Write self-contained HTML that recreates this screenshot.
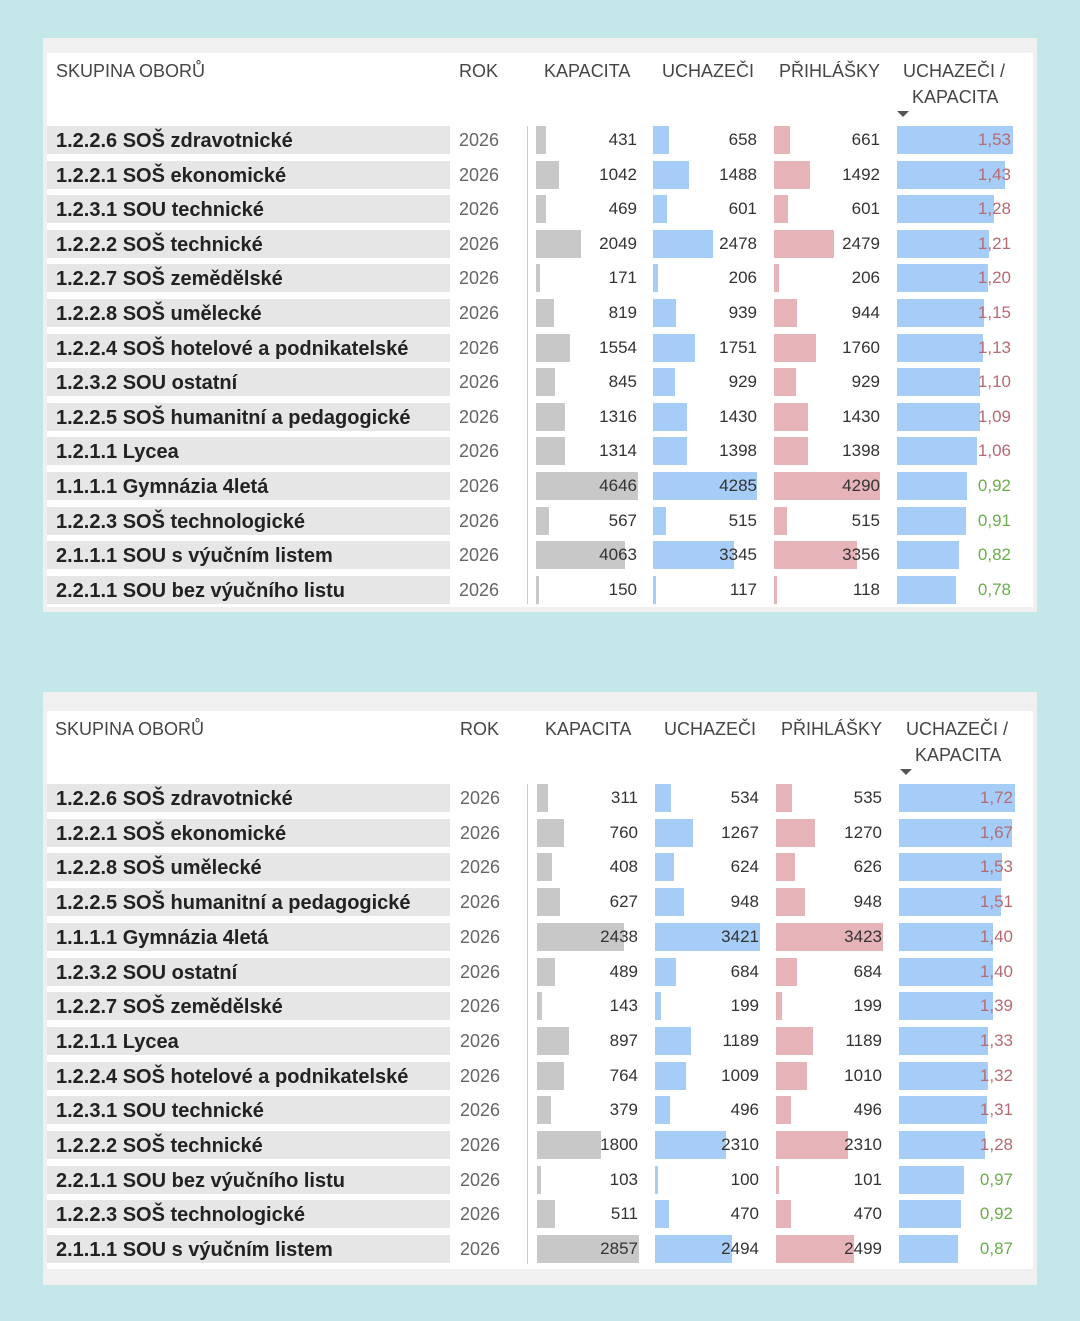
<!DOCTYPE html>
<html><head><meta charset="utf-8"><style>
body{margin:0;width:1080px;height:1321px;background:#c4e8ea;position:relative;overflow:hidden;font-family:"Liberation Sans",sans-serif}
.f{position:absolute;left:43px;width:994px;background:#f0f0f0}
.w{position:absolute;left:4px;width:986px;background:#fff}
.p{position:absolute;left:0;top:0;width:1080px}
.h{position:absolute;font-size:18px;color:#454545;line-height:20px;white-space:nowrap}
.tri{position:absolute;width:0;height:0;border-left:6px solid transparent;border-right:6px solid transparent;border-top:6px solid #555}
.dv{position:absolute;left:527px;width:1px;background:#ccc}
.r{position:absolute;left:0;height:28px;width:1080px}
.l{position:absolute;left:47px;width:394px;height:28px;background:#e6e6e6;padding-left:9px;font-weight:bold;font-size:20px;line-height:30px;color:#222;white-space:nowrap}
.y{position:absolute;left:459px;font-size:18px;line-height:28px;color:#666}
.c{position:absolute;top:0;height:28px;line-height:28px;text-align:right;font-size:17px;color:#333}
.c i{position:absolute;left:0;top:0;height:28px}
.c span{position:relative}
.k{left:536px;width:101px}.k i{background:#c8c8c8}
.u{left:653px;width:104px}.u i{background:#a6cdf7}
.q{left:774px;width:106px}.q i{background:#e6b4b8}
.z{left:897px;width:114px}.z i{background:#a6cdf7}
.rd{color:#b86a72}.gr{color:#6aad4c}
.p2 .y{left:460px}.p2 .k{left:537px}.p2 .u{left:655px}.p2 .q{left:776px}.p2 .z{left:899px}
</style></head><body>
<div class="f" style="top:38px;height:574px"><div class="w" style="top:15px;height:554px"></div></div>
<div class="f" style="top:692px;height:593px"><div class="w" style="top:19px;height:558px"></div></div>

<div class="p">
<div class="h" style="left:56px;top:61px">SKUPINA OBORŮ</div>
<div class="h" style="left:459px;top:61px">ROK</div>
<div class="h" style="left:544px;top:61px">KAPACITA</div>
<div class="h" style="left:662px;top:61px">UCHAZEČI</div>
<div class="h" style="left:779px;top:61px">PŘIHLÁŠKY</div>
<div class="h" style="left:903px;top:61px">UCHAZEČI /</div>
<div class="h" style="left:912px;top:87px">KAPACITA</div>
<div class="tri" style="left:897px;top:111px"></div>
<div class="dv" style="top:126px;height:478px"></div>
<div class="r" style="top:126px"><div class="l">1.2.2.6 SOŠ zdravotnické</div><div class="y">2026</div><div class="c k"><i style="width:10px"></i><span>431</span></div><div class="c u"><i style="width:16px"></i><span>658</span></div><div class="c q"><i style="width:16px"></i><span>661</span></div><div class="c z rd"><i style="width:116px"></i><span>1,53</span></div></div>
<div class="r" style="top:160.6px"><div class="l">1.2.2.1 SOŠ ekonomické</div><div class="y">2026</div><div class="c k"><i style="width:23px"></i><span>1042</span></div><div class="c u"><i style="width:36px"></i><span>1488</span></div><div class="c q"><i style="width:36px"></i><span>1492</span></div><div class="c z rd"><i style="width:108px"></i><span>1,43</span></div></div>
<div class="r" style="top:195.2px"><div class="l">1.2.3.1 SOU technické</div><div class="y">2026</div><div class="c k"><i style="width:10px"></i><span>469</span></div><div class="c u"><i style="width:14px"></i><span>601</span></div><div class="c q"><i style="width:14px"></i><span>601</span></div><div class="c z rd"><i style="width:97px"></i><span>1,28</span></div></div>
<div class="r" style="top:229.8px"><div class="l">1.2.2.2 SOŠ technické</div><div class="y">2026</div><div class="c k"><i style="width:45px"></i><span>2049</span></div><div class="c u"><i style="width:60px"></i><span>2478</span></div><div class="c q"><i style="width:60px"></i><span>2479</span></div><div class="c z rd"><i style="width:92px"></i><span>1,21</span></div></div>
<div class="r" style="top:264.4px"><div class="l">1.2.2.7 SOŠ zemědělské</div><div class="y">2026</div><div class="c k"><i style="width:4px"></i><span>171</span></div><div class="c u"><i style="width:5px"></i><span>206</span></div><div class="c q"><i style="width:5px"></i><span>206</span></div><div class="c z rd"><i style="width:91px"></i><span>1,20</span></div></div>
<div class="r" style="top:299px"><div class="l">1.2.2.8 SOŠ umělecké</div><div class="y">2026</div><div class="c k"><i style="width:18px"></i><span>819</span></div><div class="c u"><i style="width:23px"></i><span>939</span></div><div class="c q"><i style="width:23px"></i><span>944</span></div><div class="c z rd"><i style="width:87px"></i><span>1,15</span></div></div>
<div class="r" style="top:333.6px"><div class="l">1.2.2.4 SOŠ hotelové a podnikatelské</div><div class="y">2026</div><div class="c k"><i style="width:34px"></i><span>1554</span></div><div class="c u"><i style="width:42px"></i><span>1751</span></div><div class="c q"><i style="width:42px"></i><span>1760</span></div><div class="c z rd"><i style="width:86px"></i><span>1,13</span></div></div>
<div class="r" style="top:368.2px"><div class="l">1.2.3.2 SOU ostatní</div><div class="y">2026</div><div class="c k"><i style="width:19px"></i><span>845</span></div><div class="c u"><i style="width:22px"></i><span>929</span></div><div class="c q"><i style="width:22px"></i><span>929</span></div><div class="c z rd"><i style="width:83px"></i><span>1,10</span></div></div>
<div class="r" style="top:402.8px"><div class="l">1.2.2.5 SOŠ humanitní a pedagogické</div><div class="y">2026</div><div class="c k"><i style="width:29px"></i><span>1316</span></div><div class="c u"><i style="width:34px"></i><span>1430</span></div><div class="c q"><i style="width:34px"></i><span>1430</span></div><div class="c z rd"><i style="width:83px"></i><span>1,09</span></div></div>
<div class="r" style="top:437.4px"><div class="l">1.2.1.1 Lycea</div><div class="y">2026</div><div class="c k"><i style="width:29px"></i><span>1314</span></div><div class="c u"><i style="width:34px"></i><span>1398</span></div><div class="c q"><i style="width:34px"></i><span>1398</span></div><div class="c z rd"><i style="width:80px"></i><span>1,06</span></div></div>
<div class="r" style="top:472px"><div class="l">1.1.1.1 Gymnázia 4letá</div><div class="y">2026</div><div class="c k"><i style="width:102px"></i><span>4646</span></div><div class="c u"><i style="width:104px"></i><span>4285</span></div><div class="c q"><i style="width:106px"></i><span>4290</span></div><div class="c z gr"><i style="width:70px"></i><span>0,92</span></div></div>
<div class="r" style="top:506.6px"><div class="l">1.2.2.3 SOŠ technologické</div><div class="y">2026</div><div class="c k"><i style="width:12.5px"></i><span>567</span></div><div class="c u"><i style="width:12.5px"></i><span>515</span></div><div class="c q"><i style="width:12.5px"></i><span>515</span></div><div class="c z gr"><i style="width:69px"></i><span>0,91</span></div></div>
<div class="r" style="top:541.2px"><div class="l">2.1.1.1 SOU s výučním listem</div><div class="y">2026</div><div class="c k"><i style="width:89px"></i><span>4063</span></div><div class="c u"><i style="width:81px"></i><span>3345</span></div><div class="c q"><i style="width:83px"></i><span>3356</span></div><div class="c z gr"><i style="width:62px"></i><span>0,82</span></div></div>
<div class="r" style="top:575.8px"><div class="l">2.2.1.1 SOU bez výučního listu</div><div class="y">2026</div><div class="c k"><i style="width:3px"></i><span>150</span></div><div class="c u"><i style="width:3px"></i><span>117</span></div><div class="c q"><i style="width:3px"></i><span>118</span></div><div class="c z gr"><i style="width:59px"></i><span>0,78</span></div></div>
</div>

<div class="p p2">
<div class="h" style="left:55px;top:719px">SKUPINA OBORŮ</div>
<div class="h" style="left:460px;top:719px">ROK</div>
<div class="h" style="left:545px;top:719px">KAPACITA</div>
<div class="h" style="left:664px;top:719px">UCHAZEČI</div>
<div class="h" style="left:781px;top:719px">PŘIHLÁŠKY</div>
<div class="h" style="left:906px;top:719px">UCHAZEČI /</div>
<div class="h" style="left:915px;top:745px">KAPACITA</div>
<div class="tri" style="left:900px;top:769px"></div>
<div class="dv" style="top:784px;height:480px"></div>
<div class="r" style="top:784px"><div class="l">1.2.2.6 SOŠ zdravotnické</div><div class="y">2026</div><div class="c k"><i style="width:11px"></i><span>311</span></div><div class="c u"><i style="width:16px"></i><span>534</span></div><div class="c q"><i style="width:16px"></i><span>535</span></div><div class="c z rd"><i style="width:116px"></i><span>1,72</span></div></div>
<div class="r" style="top:818.7px"><div class="l">1.2.2.1 SOŠ ekonomické</div><div class="y">2026</div><div class="c k"><i style="width:27px"></i><span>760</span></div><div class="c u"><i style="width:38px"></i><span>1267</span></div><div class="c q"><i style="width:39px"></i><span>1270</span></div><div class="c z rd"><i style="width:113px"></i><span>1,67</span></div></div>
<div class="r" style="top:853.4px"><div class="l">1.2.2.8 SOŠ umělecké</div><div class="y">2026</div><div class="c k"><i style="width:14.5px"></i><span>408</span></div><div class="c u"><i style="width:19px"></i><span>624</span></div><div class="c q"><i style="width:19px"></i><span>626</span></div><div class="c z rd"><i style="width:103px"></i><span>1,53</span></div></div>
<div class="r" style="top:888.1px"><div class="l">1.2.2.5 SOŠ humanitní a pedagogické</div><div class="y">2026</div><div class="c k"><i style="width:22.5px"></i><span>627</span></div><div class="c u"><i style="width:29px"></i><span>948</span></div><div class="c q"><i style="width:29px"></i><span>948</span></div><div class="c z rd"><i style="width:102px"></i><span>1,51</span></div></div>
<div class="r" style="top:922.8px"><div class="l">1.1.1.1 Gymnázia 4letá</div><div class="y">2026</div><div class="c k"><i style="width:87px"></i><span>2438</span></div><div class="c u"><i style="width:105px"></i><span>3421</span></div><div class="c q"><i style="width:107px"></i><span>3423</span></div><div class="c z rd"><i style="width:94px"></i><span>1,40</span></div></div>
<div class="r" style="top:957.5px"><div class="l">1.2.3.2 SOU ostatní</div><div class="y">2026</div><div class="c k"><i style="width:17.5px"></i><span>489</span></div><div class="c u"><i style="width:21px"></i><span>684</span></div><div class="c q"><i style="width:21px"></i><span>684</span></div><div class="c z rd"><i style="width:94px"></i><span>1,40</span></div></div>
<div class="r" style="top:992.2px"><div class="l">1.2.2.7 SOŠ zemědělské</div><div class="y">2026</div><div class="c k"><i style="width:5px"></i><span>143</span></div><div class="c u"><i style="width:6px"></i><span>199</span></div><div class="c q"><i style="width:6px"></i><span>199</span></div><div class="c z rd"><i style="width:94px"></i><span>1,39</span></div></div>
<div class="r" style="top:1026.9px"><div class="l">1.2.1.1 Lycea</div><div class="y">2026</div><div class="c k"><i style="width:32px"></i><span>897</span></div><div class="c u"><i style="width:36px"></i><span>1189</span></div><div class="c q"><i style="width:37px"></i><span>1189</span></div><div class="c z rd"><i style="width:89px"></i><span>1,33</span></div></div>
<div class="r" style="top:1061.6px"><div class="l">1.2.2.4 SOŠ hotelové a podnikatelské</div><div class="y">2026</div><div class="c k"><i style="width:27px"></i><span>764</span></div><div class="c u"><i style="width:31px"></i><span>1009</span></div><div class="c q"><i style="width:31px"></i><span>1010</span></div><div class="c z rd"><i style="width:89px"></i><span>1,32</span></div></div>
<div class="r" style="top:1096.3px"><div class="l">1.2.3.1 SOU technické</div><div class="y">2026</div><div class="c k"><i style="width:13.5px"></i><span>379</span></div><div class="c u"><i style="width:15px"></i><span>496</span></div><div class="c q"><i style="width:15px"></i><span>496</span></div><div class="c z rd"><i style="width:88px"></i><span>1,31</span></div></div>
<div class="r" style="top:1131px"><div class="l">1.2.2.2 SOŠ technické</div><div class="y">2026</div><div class="c k"><i style="width:64px"></i><span>1800</span></div><div class="c u"><i style="width:71px"></i><span>2310</span></div><div class="c q"><i style="width:72px"></i><span>2310</span></div><div class="c z rd"><i style="width:86px"></i><span>1,28</span></div></div>
<div class="r" style="top:1165.7px"><div class="l">2.2.1.1 SOU bez výučního listu</div><div class="y">2026</div><div class="c k"><i style="width:3.5px"></i><span>103</span></div><div class="c u"><i style="width:3px"></i><span>100</span></div><div class="c q"><i style="width:3px"></i><span>101</span></div><div class="c z gr"><i style="width:65px"></i><span>0,97</span></div></div>
<div class="r" style="top:1200.4px"><div class="l">1.2.2.3 SOŠ technologické</div><div class="y">2026</div><div class="c k"><i style="width:18px"></i><span>511</span></div><div class="c u"><i style="width:14px"></i><span>470</span></div><div class="c q"><i style="width:15px"></i><span>470</span></div><div class="c z gr"><i style="width:62px"></i><span>0,92</span></div></div>
<div class="r" style="top:1235.1px"><div class="l">2.1.1.1 SOU s výučním listem</div><div class="y">2026</div><div class="c k"><i style="width:102px"></i><span>2857</span></div><div class="c u"><i style="width:77px"></i><span>2494</span></div><div class="c q"><i style="width:78px"></i><span>2499</span></div><div class="c z gr"><i style="width:59px"></i><span>0,87</span></div></div>
</div>
</body></html>
